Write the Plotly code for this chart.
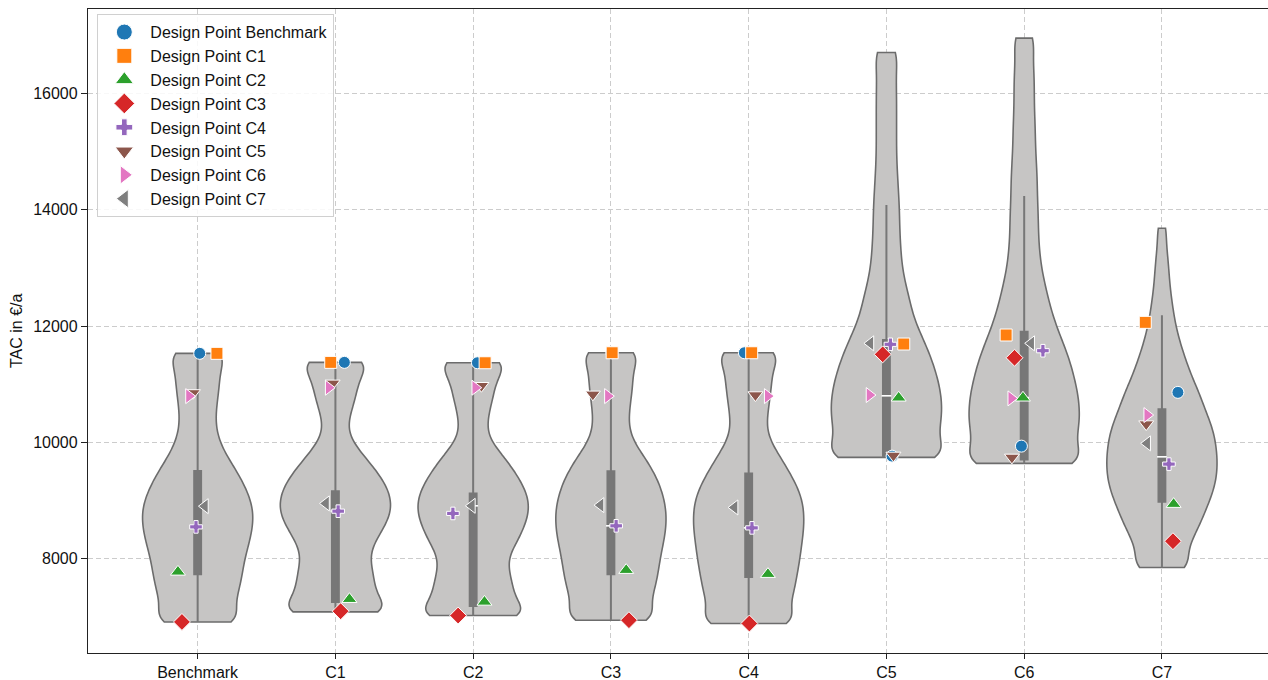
import numpy as np
import plotly.graph_objects as go

categories = ["Benchmark", "C1", "C2", "C3", "C4", "C5", "C6", "C7"]

# Estimated underlying TAC samples per scenario (value levels and their frequencies)
bench_levels = [6914, 7171, 7427, 7684, 7940, 8197, 8453, 8710, 8966, 9223, 9480, 9736, 9993, 10249, 10506, 10762, 11018, 11275, 11531]
bench_counts = [48, 35, 41, 44, 46, 50, 54, 56, 54, 48, 40, 30, 22, 18, 18, 20, 22, 22, 32]
c1_levels = [7087, 7339, 7592, 7844, 8096, 8349, 8601, 8853, 9106, 9358, 9610, 9863, 10115, 10367, 10620, 10872, 11124, 11376]
c1_counts = [62, 38, 38, 35, 32, 40, 49, 55, 53, 46, 35, 23, 12, 12, 17, 21, 22, 39]
c2_levels = [7024, 7280, 7535, 7791, 8047, 8302, 8558, 8813, 9069, 9325, 9580, 9836, 10092, 10347, 10603, 10858, 11114, 11369]
c2_counts = [62, 37, 38, 33, 32, 42, 48, 53, 52, 45, 36, 25, 13, 13, 16, 20, 21, 38]
c3_levels = [6944, 7199, 7455, 7710, 7965, 8221, 8476, 8732, 8987, 9243, 9498, 9753, 10009, 10264, 10519, 10775, 11030, 11286, 11541]
c3_counts = [50, 37, 43, 46, 48, 51, 54, 55, 53, 49, 42, 33, 22, 17, 18, 20, 22, 21, 33]
c4_levels = [6887, 7146, 7404, 7663, 7921, 8180, 8439, 8697, 8956, 9214, 9473, 9732, 9990, 10249, 10507, 10766, 11024, 11283, 11541]
c4_counts = [54, 38, 45, 47, 50, 52, 54, 55, 54, 49, 41, 32, 22, 17, 19, 21, 23, 23, 36]
c5_levels = [9742, 10045, 10347, 10650, 10952, 11255, 11557, 11860, 12163, 12465, 12768, 13070, 13373, 13675, 13978, 14280, 14583, 14885, 15188, 15491, 15793, 16096, 16398, 16701]
c5_counts = [71, 47, 55, 55, 53, 48, 42, 34, 26, 23, 18, 15, 14, 13, 13, 12, 11, 10, 10, 10, 10, 10, 9, 13]
c6_levels = [9639, 9944, 10248, 10553, 10857, 11162, 11467, 11771, 12076, 12380, 12685, 12990, 13294, 13599, 13903, 14208, 14513, 14817, 15122, 15426, 15731, 16036, 16340, 16645, 16949]
c6_counts = [70, 47, 55, 55, 53, 49, 44, 37, 30, 25, 21, 17, 15, 14, 14, 13, 13, 12, 11, 11, 10, 10, 10, 8, 12]
c7_levels = [7850, 8104, 8357, 8611, 8864, 9118, 9371, 9625, 9878, 10132, 10385, 10639, 10892, 11146, 11399, 11653, 11906, 12160, 12413, 12667, 12920, 13174, 13427, 13681]
c7_counts = [32, 23, 31, 38, 44, 50, 54, 55, 54, 52, 47, 41, 36, 29, 24, 19, 15, 12, 10, 8, 7, 6, 4, 5]
kde_bandwidth = [200, 200, 200, 200, 200, 240, 240, 200]

# Inner box statistics
box_q1 = [7733, 7258, 7190, 7735, 7688, 9760, 9708, 8980]
box_median = [8560, 8820, 8910, 8566, 8531, 10801, 10770, 9752]
box_q3 = [9508, 9162, 9123, 9506, 9467, 11760, 11903, 10568]
box_lower = [6914, 7087, 7024, 6944, 6887, 9742, 9639, 7850]
box_upper = [11531, 11376, 11369, 11541, 11541, 14082, 14236, 12184]

# Design points: TAC of each design point in each scenario
dp_names = ["Design Point Benchmark", "Design Point C1", "Design Point C2", "Design Point C3",
            "Design Point C4", "Design Point C5", "Design Point C6", "Design Point C7"]
dp_benchmark = [11531, 11376, 11369, 11541, 11541, 9764, 9936, 10860]
dp_c1 = [11531, 11376, 11369, 11541, 11541, 11691, 11846, 12064]
dp_c2 = [7775, 7305, 7258, 7804, 7735, 10767, 10767, 8939]
dp_c3 = [6914, 7098, 7024, 6944, 6887, 11514, 11455, 8302]
dp_c4 = [8548, 8818, 8779, 8566, 8531, 11686, 11576, 9627]
dp_c5 = [10850, 11015, 10974, 10826, 10814, 9776, 9742, 10315]
dp_c6 = [10796, 10940, 10940, 10796, 10796, 10814, 10757, 10470]
dp_c7 = [8904, 8951, 8910, 8922, 8882, 11703, 11703, 9983]

# Strip jitter (category units)
jit_benchmark = [0.015, 0.065, 0.031, 0.007, -0.031, 0.041, -0.020, 0.116]
jit_c1 = [0.140, -0.034, 0.087, 0.009, 0.022, 0.126, -0.131, -0.121]
jit_c2 = [-0.143, 0.102, 0.082, 0.111, 0.140, 0.089, -0.009, 0.085]
jit_c3 = [-0.114, 0.038, -0.109, 0.131, 0.005, -0.027, -0.070, 0.080]
jit_c4 = [-0.012, 0.020, -0.147, 0.038, 0.024, 0.029, 0.136, 0.051]
jit_c5 = [-0.034, -0.020, 0.060, -0.131, 0.049, 0.051, -0.089, -0.114]
jit_c6 = [-0.063, -0.049, 0.015, -0.022, 0.138, -0.123, -0.094, -0.107]
jit_c7 = [0.053, -0.068, -0.009, -0.075, -0.102, -0.116, 0.051, -0.107]

y_ticks = [8000, 10000, 12000, 14000, 16000]
y_tick_labels = ["8000", "10000", "12000", "14000", "16000"]

levels_all = [bench_levels, c1_levels, c2_levels, c3_levels, c4_levels, c5_levels, c6_levels, c7_levels]
counts_all = [bench_counts, c1_counts, c2_counts, c3_counts, c4_counts, c5_counts, c6_counts, c7_counts]
dp_all = [dp_benchmark, dp_c1, dp_c2, dp_c3, dp_c4, dp_c5, dp_c6, dp_c7]
jit_all = [jit_benchmark, jit_c1, jit_c2, jit_c3, jit_c4, jit_c5, jit_c6, jit_c7]

colors = ["#1f77b4", "#ff7f0e", "#2ca02c", "#d62728", "#9467bd", "#8c564b", "#e377c2", "#7f7f7f"]
symbols = ["circle", "square", "triangle-up", "diamond", "cross", "triangle-down", "triangle-right", "triangle-left"]
sizes = [12, 12, 13, 13, 10.5, 13, 13, 13]
legend_sizes = [16, 15, 16, 16, 14, 16, 16, 16]

FONT = "Liberation Sans, Arial, sans-serif"
fig = go.Figure()

for i, (lv, ct) in enumerate(zip(levels_all, counts_all)):
    samples = np.repeat(np.array(lv, dtype=float), ct)
    fig.add_trace(go.Violin(
        x0=i, y=samples, width=0.8, spanmode="hard", scalemode="width",
        bandwidth=kde_bandwidth[i], points=False,
        box_visible=False, meanline_visible=False,
        fillcolor="#c6c5c4", opacity=1,
        line=dict(color="#6c6c6c", width=1.6),
        showlegend=False, hoverinfo="skip", name=categories[i]))

xpos = list(range(len(categories)))
fig.add_trace(go.Box(
    x=xpos, q1=box_q1, median=box_median, q3=box_q3,
    lowerfence=box_lower, upperfence=box_upper,
    width=0.05, whiskerwidth=0, boxpoints=False,
    fillcolor="#777777", line=dict(color="#777777", width=2),
    showlegend=False, hoverinfo="skip"))

fig.add_trace(go.Scatter(
    x=xpos, y=box_median, mode="markers",
    marker=dict(symbol="line-ew", size=7, line=dict(color="white", width=1.6)),
    showlegend=False, hoverinfo="skip"))

for k in range(8):
    fig.add_trace(go.Scatter(
        x=[i + j for i, j in zip(xpos, jit_all[k])], y=dp_all[k], mode="markers",
        marker=dict(symbol=symbols[k], size=sizes[k], color=colors[k],
                    line=dict(color="white", width=1)),
        showlegend=False, hoverinfo="skip", name=dp_names[k]))

for k in range(8):
    fig.add_trace(go.Scatter(
        x=[None], y=[None], mode="markers", name=dp_names[k],
        legendgroup=dp_names[k],
        marker=dict(symbol=symbols[k], size=legend_sizes[k], color=colors[k],
                    line=dict(color="white", width=1))))

grid = dict(showgrid=True, gridcolor="#cccccc", gridwidth=1, griddash="5px,3px")
fig.update_layout(
    width=1268, height=680,
    margin=dict(l=88, r=0, t=9, b=27),
    paper_bgcolor="white", plot_bgcolor="white",
    font=dict(family=FONT, size=16, color="#111111"),
    violinmode="overlay", boxmode="overlay",
    xaxis=dict(range=[-0.796, 7.77], tickmode="array", tickvals=xpos, ticktext=categories,
               ticks="outside", ticklen=5, tickcolor="#222", showline=True,
               linecolor="#222", linewidth=1.3, mirror=True, zeroline=False,
               tickfont=dict(size=16, family=FONT), **grid),
    yaxis=dict(range=[6380, 17450], tickmode="array", tickvals=y_ticks, ticktext=y_tick_labels,
               ticks="outside", ticklen=6, tickcolor="#222", showline=True,
               linecolor="#222", linewidth=1.3, zeroline=False,
               tickfont=dict(size=16, family=FONT), **grid),
    legend=dict(x=0.0079, y=0.992, xanchor="left", yanchor="top",
                bgcolor="rgba(255,255,255,0.85)", bordercolor="#d0d0d0", borderwidth=1,
                font=dict(size=16, family=FONT), itemwidth=42, tracegroupgap=1.6,
                traceorder="normal"),
    annotations=[dict(text="TAC in €/a", textangle=-90, xref="paper", yref="paper",
                      x=-0.0610, y=0.5, xanchor="center", yanchor="middle",
                      showarrow=False, font=dict(size=16, family=FONT))],
)

fig.write_html("out.html", config={"displayModeBar": False},
               post_script="document.body.style.margin='0px';document.body.style.padding='0px';")
